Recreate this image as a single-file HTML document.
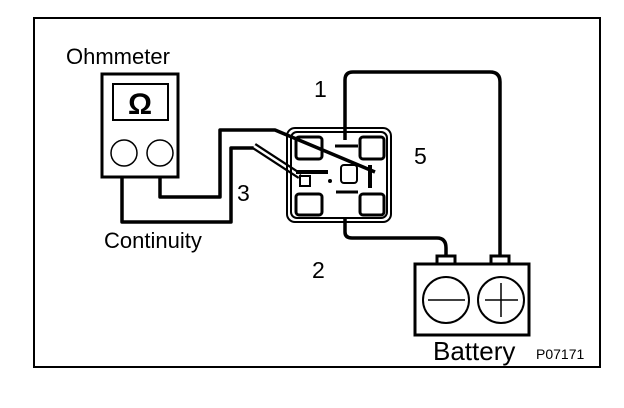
<!DOCTYPE html>
<html><head><style>
html,body{margin:0;padding:0;background:#fff;width:624px;height:408px;overflow:hidden}
text{font-family:"Liberation Sans",sans-serif;fill:#000}
</style></head><body>
<svg width="624" height="408" viewBox="0 0 624 408" xmlns="http://www.w3.org/2000/svg">
<rect x="34" y="18" width="566" height="349" fill="none" stroke="#000" stroke-width="2"/>
<text x="66" y="64" font-size="22">Ohmmeter</text>
<!-- meter -->
<rect x="102" y="74" width="76" height="103" fill="none" stroke="#000" stroke-width="3"/>
<rect x="113" y="84" width="55" height="36" fill="none" stroke="#000" stroke-width="2"/>
<text x="140" y="114" font-size="30" font-weight="bold" text-anchor="middle">Ω</text>
<circle cx="124" cy="153" r="13" fill="none" stroke="#000" stroke-width="1.5"/>
<circle cx="160" cy="153" r="13" fill="none" stroke="#000" stroke-width="1.5"/>
<!-- wires from meter -->
<g fill="none" stroke="#000" stroke-width="3.5" stroke-linejoin="round">
<path d="M122 177 V222 H231 V148 H254"/>
<path d="M160 177 V197 H220 V130 H275 L375 172"/>
<path d="M254 146 L300 176" stroke-width="7"/>
<path d="M254 146 L300 176" stroke="#fff" stroke-width="2.5"/>
<path d="M345 140 V80 Q345 72 353 72 H490 Q500 72 500 82 V256"/>
<path d="M345 218 V232 Q345 238 352 238 H437 Q446 238 446 248 V256"/>
</g>
<!-- relay -->
<g fill="none" stroke="#000" stroke-width="2">
<rect x="287" y="128" width="104" height="94" rx="8"/>
<rect x="291" y="132" width="96" height="86" rx="6"/>
<rect x="296" y="137" width="26" height="22" rx="3" stroke-width="3"/>
<rect x="360" y="137" width="24" height="22" rx="3" stroke-width="3"/>
<rect x="296" y="194" width="26" height="21" rx="3" stroke-width="3"/>
<rect x="360" y="194" width="24" height="21" rx="3" stroke-width="3"/>
<rect x="341" y="165" width="16" height="18" rx="3" stroke-width="2"/>
<rect x="300" y="176" width="10" height="10"/>
<path d="M335 146 H358 M336 192 H358" stroke-width="3"/>
<path d="M370 165 V188" stroke-width="4"/>
<path d="M296 172 H328" stroke-width="4"/>
</g>
<circle cx="330" cy="181" r="2" fill="#000"/>
<!-- battery -->
<g fill="none" stroke="#000">
<rect x="415" y="264" width="114" height="71" stroke-width="3"/>
<rect x="437" y="256" width="18" height="8" stroke-width="3"/>
<rect x="491" y="256" width="18" height="8" stroke-width="3"/>
<circle cx="446" cy="300" r="23" stroke-width="2"/>
<circle cx="501" cy="300" r="23" stroke-width="2"/>
<path d="M428 300 H465 M485 300 H518 M501 283 V317" stroke-width="1.5"/>
</g>
<text x="314" y="97" font-size="23">1</text>
<text x="414" y="164" font-size="23">5</text>
<text x="237" y="201" font-size="23">3</text>
<text x="312" y="278" font-size="23">2</text>
<text x="104" y="248" font-size="22">Continuity</text>
<text x="433" y="360" font-size="26">Battery</text>
<text x="536" y="359" font-size="14">P07171</text>
</svg>
</body></html>
